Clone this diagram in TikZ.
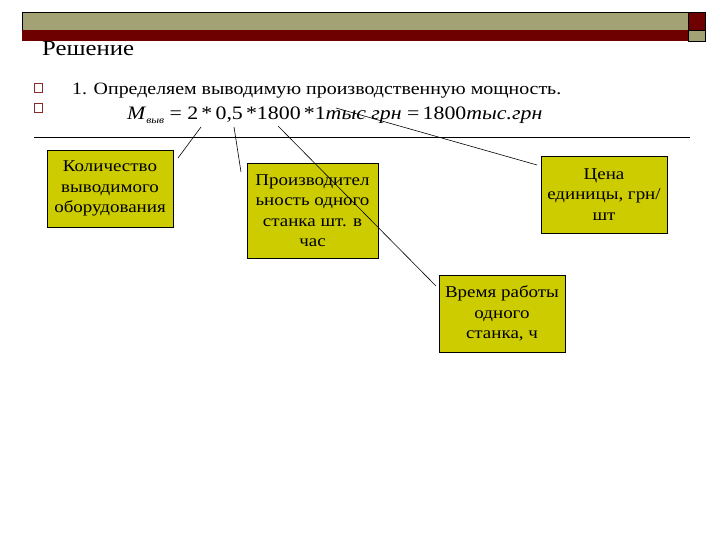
\documentclass[tikz,border=0pt]{standalone}
\usepackage{fontspec}
\setmainfont{Liberation Serif}[FakeStretch=1.15]
\definecolor{olivebar}{HTML}{A2A274}
\definecolor{darkred}{HTML}{6E0000}
\definecolor{boxfill}{HTML}{CCCC00}
\definecolor{bulletc}{HTML}{8A2A2A}
\tikzset{
  infobox/.style={draw=black, line width=0.6pt, fill=boxfill, align=center, inner sep=0pt, font=\fontsize{16.5}{20.5}\selectfont},
  bulletsq/.style={draw=bulletc, line width=0.7pt, fill=white, minimum size=8.5pt, inner sep=0pt},
  conn/.style={draw=black, line width=0.6pt}
}
\begin{document}
\begin{tikzpicture}[x=1pt, y=-1pt]
\useasboundingbox (0,0) rectangle (720,540);
% header bars
\fill[olivebar, draw=black, line width=0.4pt] (22,12) rectangle (688,30);
\fill[darkred] (22,30) rectangle (688,41);
\fill[darkred, draw=black, line width=0.4pt] (688,12) rectangle (705,30);
\fill[olivebar, draw=black, line width=0.4pt] (688,30) rectangle (705,41);
% title
\node[anchor=base west, inner sep=0pt, font=\fontsize{21.5}{24}\selectfont] (title) at (42,56) {Решение};
% bullets
\node[bulletsq] (b1) at (38.5,88) {};
\node[bulletsq] (b2) at (38.5,108) {};
\node[anchor=base west, inner sep=0pt, font=\fontsize{17.3}{20}\selectfont] (line1) at (72,95) {1. Определяем выводимую производственную мощность.};
\node[anchor=base west, inner sep=0pt, font=\fontsize{19}{22}\selectfont] (formula) at (127,120)
  {\textit{M}\raisebox{-0.35ex}{\fontsize{10}{11}\selectfont\textit{выв}}\ = 2\,*\,0,5\,*1800\,*1\textit{тыс грн} =\,1800\textit{тыс.грн}};
% rule
\draw[line width=0.8pt] (34,137) -- (690,137);
% boxes
\node[infobox, minimum width=126pt, minimum height=77pt] (kol) at (110,188.5) {Количество\\выводимого\\оборудования};
\node[infobox, minimum width=131pt, minimum height=95pt] (proizv) at (312.5,210.5) {Производител\\ьность одного\\станка шт. в\\час};
\node[infobox, minimum width=126pt, minimum height=77pt] (cena) at (604,194.5) {Цена\\единицы, грн/\\шт};
\node[infobox, minimum width=126pt, minimum height=77pt] (vremya) at (502,313.5) {Время работы\\одного\\станка, ч};
% connector ends
\coordinate (f2) at (201,127);
\coordinate (f05) at (234,127);
\coordinate (f1800) at (278,126);
\coordinate (ftys) at (336,108);
\coordinate (e2) at (178,158);
\coordinate (e05) at (241,172);
\coordinate (e1800) at (436,286);
\coordinate (etys) at (537,165);
\draw[conn] (f2) -- (e2);
\draw[conn] (f05) -- (e05);
\draw[conn] (f1800) -- (e1800);
\draw[conn] (ftys) -- (etys);
\end{tikzpicture}
\end{document}
